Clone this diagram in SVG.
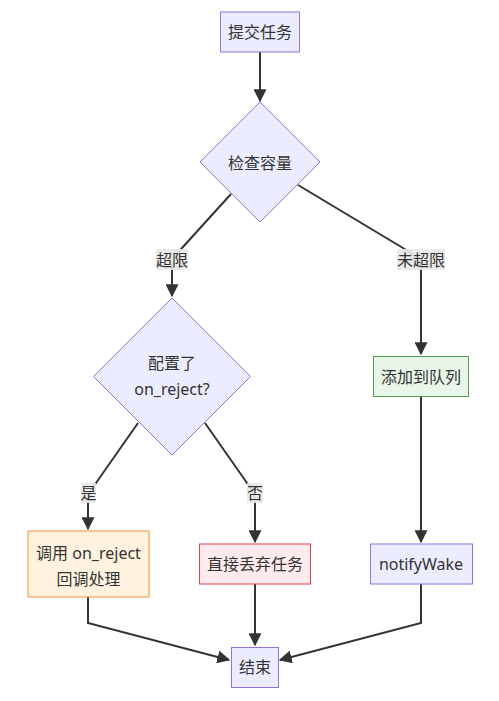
<svg xmlns="http://www.w3.org/2000/svg" width="499" height="701" viewBox="0 0 499 701">
<style>
text{font-family:"Noto Sans","Noto Sans CJK SC",sans-serif;font-size:16px;fill:#333;text-anchor:middle;dominant-baseline:central}
.n{fill:#ECECFF;stroke:#9370DB;stroke-width:1}
.g{fill:#e8f5e9;stroke:#4e9e4e;stroke-width:1}
.o{fill:#fff3e0;stroke:#f0923c;stroke-width:1}
.r{fill:#ffebee;stroke:#de4343;stroke-width:1}
.e{fill:none;stroke:#333;stroke-width:2}
.lb{fill:#e8e8e8;opacity:0.9}
</style>
<defs>
<marker id="ah" viewBox="0 0 10 10" refX="9" refY="5" markerWidth="6.5" markerHeight="6.5" orient="auto" markerUnits="strokeWidth">
<path d="M0,0 L10,5 L0,10 z" fill="#333"/>
</marker>
</defs>
<rect width="499" height="701" fill="#fff"/>
<g id="connectors">
<path class="e" d="M260,52 L260,101" marker-end="url(#ah)"/>
<path class="e" d="M231,194 L182,248 Q172,259 172,270 L172,296" marker-end="url(#ah)"/>
<path class="e" d="M298,185 L403,248 Q421,258 421,270 L421,354" marker-end="url(#ah)"/>
<path class="e" d="M421,397 L421,542" marker-end="url(#ah)"/>
<path class="e" d="M138,423 L96,483 Q88,492 88,503 L88,529" marker-end="url(#ah)"/>
<path class="e" d="M205,423 L247,483 Q255,492 255,503 L255,542" marker-end="url(#ah)"/>
<path class="e" d="M88,597 L88,623 L229,660" marker-end="url(#ah)"/>
<path class="e" d="M255,584 L255,645" marker-end="url(#ah)"/>
<path class="e" d="M421,584 L421,623 L280,660" marker-end="url(#ah)"/>
</g>
<g id="labels">
<rect class="lb" x="156" y="249" width="32" height="21"/>
<text x="172" y="260">超限</text>
<rect class="lb" x="397" y="249" width="48" height="21"/>
<text x="421" y="260">未超限</text>
<rect class="lb" x="81" y="483" width="15" height="20"/>
<text x="88.5" y="493">是</text>
<rect class="lb" x="247" y="483" width="16" height="20"/>
<text x="255" y="493">否</text>
</g>
<g id="submit"><rect class="n" x="220.5" y="12" width="79" height="40"/><text x="260" y="32">提交任务</text></g>
<g id="check"><polygon class="n" points="260,102 320,162 260,222 200,162"/><text x="260" y="163">检查容量</text></g>
<g id="cfg"><polygon class="n" points="172,298 250.5,376.5 172,455 93.5,376.5"/><text x="172" y="363">配置了</text><text x="172" y="389">on_reject?</text></g>
<g id="enqueue"><rect class="g" x="373.5" y="356.5" width="95" height="40"/><text x="421" y="377">添加到队列</text></g>
<g id="callreject"><rect class="o" x="28" y="531" width="121" height="66"/><text x="88.5" y="553">调用 on_reject</text><text x="88.5" y="579">回调处理</text></g>
<g id="drop"><rect class="r" x="199.5" y="544" width="111" height="40"/><text x="255" y="564">直接丢弃任务</text></g>
<g id="notify"><rect class="n" x="370.5" y="544" width="102" height="40"/><text x="421" y="564">notifyWake</text></g>
<g id="end"><rect class="n" x="231.5" y="647.5" width="47" height="40"/><text x="255" y="667">结束</text></g>
</svg>
